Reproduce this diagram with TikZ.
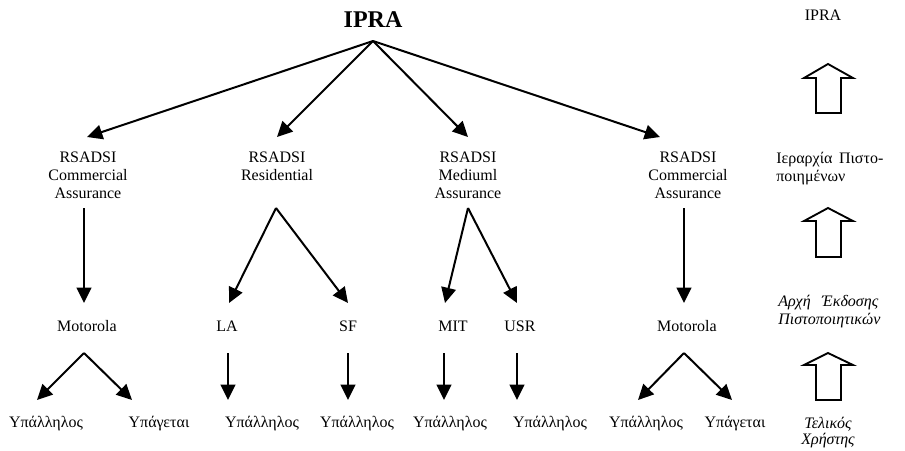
\documentclass[tikz,border=0pt]{standalone}
\usepackage{fontspec}
\setmainfont{Liberation Serif}
\usetikzlibrary{arrows.meta}
\begin{document}
\begin{tikzpicture}[x=0.75pt,y=-0.75pt,
  lbl/.style={inner sep=0pt, font=\fontsize{12}{13.5}\selectfont},
  bl/.style={lbl, anchor=base},
  ml/.style={lbl, align=center, anchor=north},
  conn/.style={line width=1.5pt, -{Triangle[length=11.5pt,width=11pt]}},
  blk/.style={line width=1.4pt, fill=white, line join=miter}]
\useasboundingbox (0,0) rectangle (905,450);

% top
\node[lbl, font=\fontsize{18}{20}\selectfont\bfseries, anchor=base] (ipra) at (373,27) {IPRA};
\coordinate (top) at (373,41);

% second level
\node[ml] (r1) at (88,152) {RSADSI\\Commercial\\Assurance};
\node[ml] (r2) at (277,152) {RSADSI\\Residential};
\node[ml] (r3) at (468,152) {RSADSI\\Mediuml\\Assurance};
\node[ml] (r4) at (688,152) {RSADSI\\Commercial\\Assurance};
\coordinate (t1) at (87,137);
\coordinate (t2) at (277,137);
\coordinate (t3) at (468,137);
\coordinate (t4) at (660,137);
\draw[conn] (top) -- (t1);
\draw[conn] (top) -- (t2);
\draw[conn] (top) -- (t3);
\draw[conn] (top) -- (t4);

% third level
\node[bl] (mo1) at (87,331) {Motorola};
\node[bl] (la) at (227,331) {LA};
\node[bl] (sf) at (348,331) {SF};
\node[bl] (mit) at (453,331) {MIT};
\node[bl] (usr) at (520,331) {USR};
\node[bl] (mo2) at (687,331) {Motorola};

\coordinate (a1) at (84,208);   \coordinate (b1) at (84,303);
\coordinate (a2) at (276,208);  \coordinate (b2l) at (229,303); \coordinate (b2r) at (348,303);
\coordinate (a3) at (468,208);  \coordinate (b3l) at (445,303); \coordinate (b3r) at (517,303);
\coordinate (a4) at (684,208);  \coordinate (b4) at (684,303);
\draw[conn] (a1) -- (b1);
\draw[conn] (a2) -- (b2l);
\draw[conn] (a2) -- (b2r);
\draw[conn] (a3) -- (b3l);
\draw[conn] (a3) -- (b3r);
\draw[conn] (a4) -- (b4);

% bottom level
\node[bl] (u1) at (46,427) {Υπάλληλος};
\node[bl] (g1) at (159,427) {Υπάγεται};
\node[bl] (u2) at (262,427) {Υπάλληλος};
\node[bl] (u3) at (357,427) {Υπάλληλος};
\node[bl] (u4) at (450,427) {Υπάλληλος};
\node[bl] (u5) at (550,427) {Υπάλληλος};
\node[bl] (u6) at (646,427) {Υπάλληλος};
\node[bl] (g2) at (735,427) {Υπάγεται};

\coordinate (m1) at (84,353);  \coordinate (m1l) at (37,400); \coordinate (m1r) at (132,400);
\coordinate (la1) at (228,353); \coordinate (la2) at (228,400);
\coordinate (sf1) at (348,353); \coordinate (sf2) at (348,400);
\coordinate (mi1) at (444,353); \coordinate (mi2) at (444,400);
\coordinate (us1) at (517,353); \coordinate (us2) at (517,400);
\coordinate (m2) at (684,353); \coordinate (m2l) at (638,400); \coordinate (m2r) at (732,400);
\draw[conn] (m1) -- (m1l);
\draw[conn] (m1) -- (m1r);
\draw[conn] (la1) -- (la2);
\draw[conn] (sf1) -- (sf2);
\draw[conn] (mi1) -- (mi2);
\draw[conn] (us1) -- (us2);
\draw[conn] (m2) -- (m2l);
\draw[conn] (m2) -- (m2r);

% right-hand legend
\node[bl] (lipra) at (823,20) {IPRA};
\node[lbl, align=left, anchor=north west] (hier) at (776,152)
  {Ιεραρχία\hspace{5pt}Πιστο-\\ποιημένων};
\node[lbl, align=left, anchor=north west, font=\fontsize{12}{13.5}\selectfont\itshape] (ca) at (778,295)
  {\makebox[75pt][s]{Αρχή\hfill Έκδοσης}\\Πιστοποιητικών};
\node[lbl, align=center, anchor=north, font=\fontsize{12}{12}\selectfont\itshape] (eu) at (828,417)
  {Τελικός\\Χρήστης};

\draw[blk] (816,113) -- (816,78) -- (804,78) -- (828,64) -- (853,78) -- (841,78) -- (841,113) -- cycle;
\draw[blk] (816,257) -- (816,221) -- (804,221) -- (828,208) -- (853,221) -- (841,221) -- (841,257) -- cycle;
\draw[blk] (816,400) -- (816,365) -- (804,365) -- (828,353) -- (853,365) -- (841,365) -- (841,400) -- cycle;
\end{tikzpicture}
\end{document}
